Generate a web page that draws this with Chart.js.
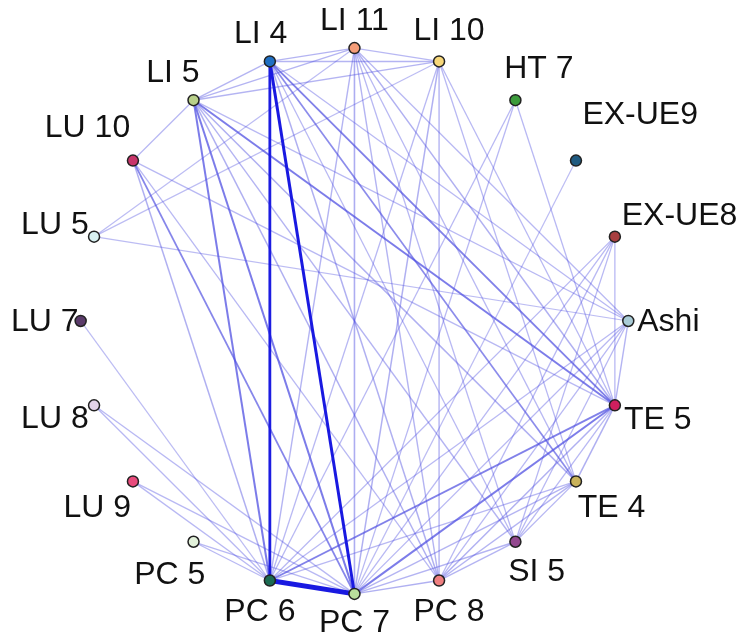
<!DOCTYPE html>
<html>
<head>
<meta charset="utf-8">
<script src="https://cdn.jsdelivr.net/npm/chart.js@4.4.1/dist/chart.umd.min.js"></script>
<style>
  html, body { margin: 0; padding: 0; background: #fff; }
  #wrap { width: 750px; height: 644px; }
</style>
</head>
<body>
<div id="wrap"><canvas id="myChart" width="750" height="644"></canvas></div>
<script>
// nodes, clockwise starting at the top
const nodes = ['LI 11', 'LI 10', 'HT 7', 'EX-UE9', 'EX-UE8', 'Ashi', 'TE 5', 'TE 4', 'SI 5', 'PC 8',
               'PC 7', 'PC 6', 'PC 5', 'LU 9', 'LU 8', 'LU 7', 'LU 5', 'LU 10', 'LI 5', 'LI 4'];
const nodeColors = ['#f59d78', '#f7d77a', '#3c9b3c', '#1f5a80', '#a83f40', '#a9cbd6', '#cf1f5e', '#c9b25a',
                    '#93488f', '#ef7f80', '#b9dd9c', '#1b6b52', '#e2f1da', '#e84b7c', '#e3d3e9', '#5b3b6b',
                    '#d9f1f2', '#c7356a', '#b9d08a', '#1f6fc3'];

// co-occurrence links (from, to, weight)
const edgeFrom = [
  'PC 6', 'LI 4', 'LI 4',
  'LI 5', 'LI 5', 'LI 5', 'LI 4', 'TE 5', 'TE 5', 'LU 10', 'LI 4', 'LI 11',
  'LI 4', 'LI 4', 'LI 4', 'LI 4', 'LI 4', 'LI 4',
  'LI 5', 'LI 5', 'LI 5', 'LI 5', 'LI 5', 'LI 5', 'LI 5',
  'LI 11', 'LI 11', 'LI 11', 'LI 11', 'LI 11', 'LI 11', 'LI 11', 'LI 11',
  'LI 10', 'LI 10', 'LI 10', 'LI 10', 'LI 10', 'LI 10',
  'HT 7', 'HT 7', 'HT 7', 'EX-UE9',
  'EX-UE8', 'EX-UE8', 'EX-UE8', 'EX-UE8', 'EX-UE8',
  'Ashi', 'Ashi', 'Ashi', 'Ashi', 'Ashi', 'Ashi',
  'TE 5', 'TE 5', 'TE 5', 'TE 5',
  'TE 4', 'TE 4', 'TE 4', 'TE 4',
  'SI 5', 'SI 5', 'PC 8',
  'LU 10', 'LU 10', 'LU 7', 'LU 8', 'LU 8', 'LU 9', 'LU 9', 'PC 5', 'PC 5'
];
const edgeTo = [
  'PC 7', 'PC 7', 'PC 6',
  'PC 6', 'PC 7', 'TE 5', 'TE 5', 'PC 7', 'PC 6', 'PC 7', 'TE 4', 'PC 7',
  'LI 5', 'LI 11', 'LI 10', 'PC 8', 'SI 5', 'Ashi',
  'LI 11', 'LI 10', 'LU 10', 'PC 8', 'TE 4', 'SI 5', 'Ashi',
  'LI 10', 'LU 5', 'PC 6', 'PC 8', 'SI 5', 'TE 4', 'TE 5', 'Ashi',
  'LU 5', 'PC 6', 'PC 7', 'PC 8', 'TE 4', 'TE 5',
  'PC 6', 'PC 7', 'TE 5', 'PC 7',
  'TE 5', 'PC 6', 'PC 7', 'PC 8', 'SI 5',
  'LU 5', 'PC 6', 'PC 7', 'PC 8', 'TE 5', 'SI 5',
  'LU 10', 'TE 4', 'SI 5', 'PC 8',
  'SI 5', 'PC 8', 'PC 7', 'PC 6',
  'PC 8', 'PC 7', 'PC 7',
  'PC 6', 'PC 8', 'PC 6', 'PC 6', 'PC 7', 'PC 6', 'PC 7', 'PC 6', 'PC 7'
];
const edgeWeight = [
  5, 3, 2.8,
  2, 2, 2, 1.9, 2, 1.9, 1.8, 1.7, 1.6,
  1.4, 1.4, 1.4, 1.5, 1.3, 1.3,
  1.4, 1.4, 1.3, 1.5, 1.5, 1.4, 1.3,
  1.3, 1.2, 1.4, 1.4, 1.3, 1.3, 1.5, 1.3,
  1.2, 1.3, 1.5, 1.4, 1.3, 1.3,
  1.3, 1.3, 1.3, 1.2,
  1.3, 1.3, 1.3, 1.3, 1.3,
  1.2, 1.3, 1.3, 1.3, 1.4, 1.3,
  1.3, 1.5, 1.3, 1.5,
  1.3, 1.4, 1.4, 1.3,
  1.4, 1.4, 1.5,
  1.5, 1.3, 1.2, 1.3, 1.3, 1.3, 1.3, 1.3, 1.3
];

// circular layout
function nodePos(name) {
  const i = nodes.indexOf(name);
  const a = (90 - i * 360 / nodes.length) * Math.PI / 180;
  return { x: Math.cos(a), y: Math.sin(a) };
}

const datasets = [];
datasets.push({
  label: 'nodes',
  data: nodes.map(n => nodePos(n)),
  pointRadius: 5.5,
  pointBackgroundColor: nodeColors,
  pointBorderColor: '#222',
  pointBorderWidth: 1.5,
  showLine: false,
  order: 0
});
for (let k = 0; k < edgeFrom.length; k++) {
  const w = edgeWeight[k];
  const alpha = Math.min(1, 0.15 + 0.3 * w);
  datasets.push({
    label: edgeFrom[k] + '-' + edgeTo[k],
    data: [nodePos(edgeFrom[k]), nodePos(edgeTo[k])],
    showLine: true,
    borderColor: 'rgba(' + (w > 2.5 ? '25,25,225' : '80,80,225') + ',' + (w > 1.6 ? alpha : alpha * 0.75) + ')',
    borderWidth: w,
    pointRadius: 0,
    order: 1
  });
}

// small manual nudges where the original labels sit further out
const labelExtra = { 'EX-UE9': 16, 'LI 11': 6, 'PC 7': 6, 'LU 10': 5, 'LU 7': -7, 'LU 8': -4, 'LU 5': -4 };

// node labels placed just outside the circle
const labelPlugin = {
  id: 'labels',
  afterDatasetsDraw(chart) {
    const ctx = chart.ctx;
    const xs = chart.scales.x, ys = chart.scales.y;
    ctx.save();
    ctx.font = '32px "Liberation Sans", Arial, sans-serif';
    ctx.fillStyle = '#111';
    ctx.textAlign = 'center';
    ctx.textBaseline = 'middle';
    nodes.forEach(n => {
      const p = nodePos(n);
      const px = xs.getPixelForValue(p.x), py = ys.getPixelForValue(p.y);
      const w = ctx.measureText(n).width;
      const h = 26;
      const d = 9 + Math.abs(p.x) * w / 2 + Math.abs(p.y) * h / 2 + (labelExtra[n] || 0);
      ctx.fillText(n, px + p.x * d, py - p.y * d + 1);
    });
    ctx.restore();
  }
};

new Chart(document.getElementById('myChart').getContext('2d'), {
  type: 'scatter',
  data: { datasets: datasets },
  options: {
    responsive: false,
    animation: false,
    layout: { padding: 0 },
    scales: {
      x: { display: false, min: -1.269, max: 1.419 },
      y: { display: false, min: -1.158, max: 1.1505 }
    },
    plugins: {
      legend: { display: false },
      tooltip: { enabled: false }
    }
  },
  plugins: [labelPlugin]
});
</script>
</body>
</html>
